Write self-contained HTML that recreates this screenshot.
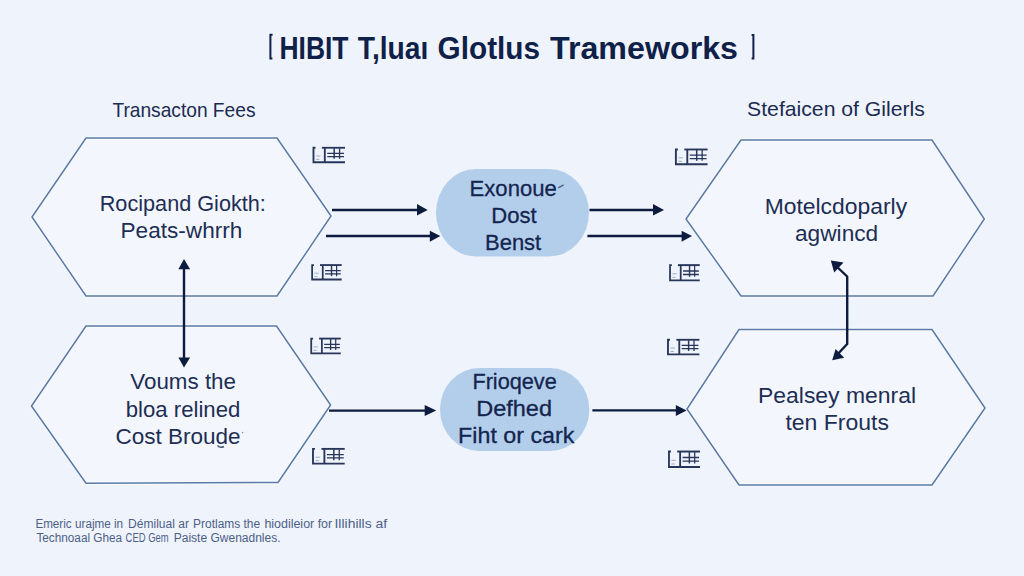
<!DOCTYPE html>
<html><head><meta charset="utf-8">
<style>
html,body{margin:0;padding:0;width:1024px;height:576px;overflow:hidden;background:#eff3fb;}
svg{display:block;font-family:"Liberation Sans",sans-serif;}
</style></head>
<body>
<svg width="1024" height="576" viewBox="0 0 1024 576">
<rect width="1024" height="576" fill="#eff3fb"/>
<path d="M272.6,34.8 H270.4 V58.6 H272.4" fill="none" stroke="#0f2149" stroke-width="2"/>
<path d="M751.6,35 H753.4 V58.6 H751.6" fill="none" stroke="#0f2149" stroke-width="2"/>
<g fill="#f3f6fc" stroke="#f7fafe" stroke-width="3.4" stroke-linejoin="round">
<polygon points="32,217 86,138 277,138 331,216 277,296 86,296"/>
<polygon points="31.5,406 86,326 276.5,326 330.6,405 278,482.5 86,483.3"/>
<polygon points="686,219 741,140 932,140 984.3,219 933,296 741,296"/>
<polygon points="687,409 739,329.5 932,329.5 985,408 932,485 739,485"/>
</g>
<g fill="none" stroke="#5b7ba6" stroke-width="1.5" stroke-linejoin="round">
<polygon points="32,217 86,138 277,138 331,216 277,296 86,296"/>
<polygon points="31.5,406 86,326 276.5,326 330.6,405 278,482.5 86,483.3"/>
<polygon points="686,219 741,140 932,140 984.3,219 933,296 741,296"/>
<polygon points="687,409 739,329.5 932,329.5 985,408 932,485 739,485"/>
</g>
<g fill="#b3ceeb">
<rect x="436" y="169" width="153" height="87.5" rx="40" ry="43.7"/>
<rect x="440" y="368" width="149.3" height="83" rx="39" ry="41.5"/>
</g>
<g fill="#0f2149" font-size="31.5" font-weight="bold">
<text x="279.50" y="58.90" textLength="69.00" lengthAdjust="spacingAndGlyphs">HIBIT</text>
<text x="357.80" y="58.90" textLength="70.50" lengthAdjust="spacingAndGlyphs">T,luaı</text>
<text x="437.60" y="58.90" textLength="102.40" lengthAdjust="spacingAndGlyphs">Glotlus</text>
<text x="550.00" y="58.90" textLength="188.00" lengthAdjust="spacingAndGlyphs">Trameworks</text>
</g>
<g fill="#1b2b52" font-size="20.3">
<text x="112.40" y="116.60" textLength="143.10" lengthAdjust="spacingAndGlyphs">Transacton Fees</text>
<text x="747.10" y="116.40" textLength="177.80" lengthAdjust="spacingAndGlyphs">Stefaicen of Gilerls</text>
</g>
<g fill="#1d2e55" font-size="22.3">
<text x="99.70" y="210.80" textLength="166.20" lengthAdjust="spacingAndGlyphs">Rocipand Giokth:</text>
<text x="120.50" y="237.90" textLength="121.90" lengthAdjust="spacingAndGlyphs">Peats-whrrh</text>
<text x="764.70" y="213.60" textLength="142.40" lengthAdjust="spacingAndGlyphs">Motelcdoparly</text>
<text x="795.00" y="240.50" textLength="83.20" lengthAdjust="spacingAndGlyphs">agwincd</text>
<text x="130.30" y="389.40" textLength="105.70" lengthAdjust="spacingAndGlyphs">Voums the</text>
<text x="125.80" y="416.50" textLength="114.50" lengthAdjust="spacingAndGlyphs">bloa relined</text>
<text x="115.40" y="443.60" textLength="125.20" lengthAdjust="spacingAndGlyphs">Cost Broude</text>
<text x="758.00" y="402.80" textLength="158.00" lengthAdjust="spacingAndGlyphs">Pealsey menral</text>
<text x="785.40" y="430.20" textLength="103.60" lengthAdjust="spacingAndGlyphs">ten Frouts</text>
</g>
<g fill="#13254f" stroke="#13254f" stroke-width="0.3" font-size="22.5">
<text x="469.60" y="195.60" textLength="87.20" lengthAdjust="spacingAndGlyphs">Exonoue</text>
<text x="491.20" y="222.70" textLength="45.40" lengthAdjust="spacingAndGlyphs">Dost</text>
<text x="485.00" y="250.10" textLength="56.20" lengthAdjust="spacingAndGlyphs">Benst</text>
<text x="472.40" y="388.60" textLength="84.40" lengthAdjust="spacingAndGlyphs">Frioqeve</text>
<text x="476.20" y="415.90" textLength="75.80" lengthAdjust="spacingAndGlyphs">Defhed</text>
<text x="458.10" y="443.00" textLength="116.30" lengthAdjust="spacingAndGlyphs">Fiht or cark</text>
</g>
<g fill="#4c5f88" font-size="12.5">
<text x="35.40" y="528.00" textLength="36.20" lengthAdjust="spacingAndGlyphs">Emeric</text>
<text x="75.00" y="528.00" textLength="48.10" lengthAdjust="spacingAndGlyphs">urajme in</text>
<text x="128.10" y="528.00" textLength="60.90" lengthAdjust="spacingAndGlyphs">Démilual ar</text>
<text x="193.10" y="528.00" textLength="67.00" lengthAdjust="spacingAndGlyphs">Protlams the</text>
<text x="264.40" y="528.00" textLength="67.80" lengthAdjust="spacingAndGlyphs">hiodileior for</text>
<text x="334.50" y="528.00" textLength="52.60" lengthAdjust="spacingAndGlyphs">Illihills af</text>
<text x="36.40" y="541.50" textLength="85.70" lengthAdjust="spacingAndGlyphs">Technoaal Ghea</text>
<text x="125.60" y="541.50" textLength="43.00" lengthAdjust="spacingAndGlyphs">CED Gem</text>
<text x="173.70" y="541.50" textLength="106.90" lengthAdjust="spacingAndGlyphs">Paiste Gwenadnles.</text>
</g>
<g stroke="#0c1b3e" stroke-width="2.4" fill="none">
<path d="M332,210 H418"/>
<path d="M326,236 H431"/>
<path d="M589.5,210 H654"/>
<path d="M587.4,236 H682"/>
<path d="M329,410.6 H426"/>
<path d="M592.4,410.4 H677"/>
<path d="M184,268 V358"/>
<path d="M834,264 L847.2,276.5 V344 L835,357" stroke-linejoin="round"/>
</g>
<g fill="#0c1b3e">
<polygon points="417,204.1 427.7,210 417,215.6"/>
<polygon points="429.8,230.8 440.3,236 429.8,241.7"/>
<polygon points="653,204 664,210 653,215.6"/>
<polygon points="681.6,230.8 692,236 681.6,241.7"/>
<polygon points="424.7,405 436.2,410.6 424.7,416.1"/>
<polygon points="675.8,405 686.6,410.4 675.8,416"/>
<polygon points="184,259 178.4,269.2 190.1,269.2"/>
<polygon points="184,367.6 178.4,357.4 190.1,357.4"/>
<polygon points="830.8,260.4 843.5,262.5 834.2,272.5"/>
<polygon points="832.2,360.3 835.6,349 844.2,357.8"/>
</g>
<path d="M558.6,187.6 L563.3,185.2" stroke="#2a3a66" stroke-width="1.3" stroke-linecap="round" opacity="0.75"/>
<circle cx="242.6" cy="432.6" r="0.8" fill="#5a6680" opacity="0.7"/>
<path d="M217.5,445.5 Q220,448.5 224,446.5" stroke="#1d2e55" stroke-width="1.4" fill="none" opacity="0.8"/>
<g transform="translate(312.5,146.8) scale(0.985,0.965)" fill="none" stroke="#28365a" stroke-width="1.9">
<path d="M3,1 H1 V16 H33"/>
<path d="M9.5,1 H33"/>
<path d="M12.5,1 V16"/>
<path d="M22,1.5 V12.5" stroke-width="1.5"/>
<path d="M27.5,1.5 V12.5" stroke-width="1.3"/>
<path d="M15,6.8 H32 M15,10.2 H32" stroke-width="1.3"/>
<path d="M3.5,9.5 H8 M3.5,13 H7" stroke-width="0.8" stroke="#8c98b0"/>
</g>
<g transform="translate(311.2,264.1) scale(0.924,0.965)" fill="none" stroke="#28365a" stroke-width="1.9">
<path d="M3,1 H1 V16 H33"/>
<path d="M9.5,1 H33"/>
<path d="M12.5,1 V16"/>
<path d="M22,1.5 V12.5" stroke-width="1.5"/>
<path d="M27.5,1.5 V12.5" stroke-width="1.3"/>
<path d="M15,6.8 H32 M15,10.2 H32" stroke-width="1.3"/>
<path d="M3.5,9.5 H8 M3.5,13 H7" stroke-width="0.8" stroke="#8c98b0"/>
</g>
<g transform="translate(310.3,337.6) scale(0.924,0.982)" fill="none" stroke="#28365a" stroke-width="1.9">
<path d="M3,1 H1 V16 H33"/>
<path d="M9.5,1 H33"/>
<path d="M12.5,1 V16"/>
<path d="M22,1.5 V12.5" stroke-width="1.5"/>
<path d="M27.5,1.5 V12.5" stroke-width="1.3"/>
<path d="M15,6.8 H32 M15,10.2 H32" stroke-width="1.3"/>
<path d="M3.5,9.5 H8 M3.5,13 H7" stroke-width="0.8" stroke="#8c98b0"/>
</g>
<g transform="translate(312.0,447.9) scale(0.991,0.982)" fill="none" stroke="#28365a" stroke-width="1.9">
<path d="M3,1 H1 V16 H33"/>
<path d="M9.5,1 H33"/>
<path d="M12.5,1 V16"/>
<path d="M22,1.5 V12.5" stroke-width="1.5"/>
<path d="M27.5,1.5 V12.5" stroke-width="1.3"/>
<path d="M15,6.8 H32 M15,10.2 H32" stroke-width="1.3"/>
<path d="M3.5,9.5 H8 M3.5,13 H7" stroke-width="0.8" stroke="#8c98b0"/>
</g>
<g transform="translate(674.9,148.5) scale(0.991,0.982)" fill="none" stroke="#28365a" stroke-width="1.9">
<path d="M3,1 H1 V16 H33"/>
<path d="M9.5,1 H33"/>
<path d="M12.5,1 V16"/>
<path d="M22,1.5 V12.5" stroke-width="1.5"/>
<path d="M27.5,1.5 V12.5" stroke-width="1.3"/>
<path d="M15,6.8 H32 M15,10.2 H32" stroke-width="1.3"/>
<path d="M3.5,9.5 H8 M3.5,13 H7" stroke-width="0.8" stroke="#8c98b0"/>
</g>
<g transform="translate(669.1,264.1) scale(0.929,1.018)" fill="none" stroke="#28365a" stroke-width="1.9">
<path d="M3,1 H1 V16 H33"/>
<path d="M9.5,1 H33"/>
<path d="M12.5,1 V16"/>
<path d="M22,1.5 V12.5" stroke-width="1.5"/>
<path d="M27.5,1.5 V12.5" stroke-width="1.3"/>
<path d="M15,6.8 H32 M15,10.2 H32" stroke-width="1.3"/>
<path d="M3.5,9.5 H8 M3.5,13 H7" stroke-width="0.8" stroke="#8c98b0"/>
</g>
<g transform="translate(667.0,338.8) scale(0.982,0.971)" fill="none" stroke="#28365a" stroke-width="1.9">
<path d="M3,1 H1 V16 H33"/>
<path d="M9.5,1 H33"/>
<path d="M12.5,1 V16"/>
<path d="M22,1.5 V12.5" stroke-width="1.5"/>
<path d="M27.5,1.5 V12.5" stroke-width="1.3"/>
<path d="M15,6.8 H32 M15,10.2 H32" stroke-width="1.3"/>
<path d="M3.5,9.5 H8 M3.5,13 H7" stroke-width="0.8" stroke="#8c98b0"/>
</g>
<g transform="translate(668.0,450.5) scale(0.971,1.035)" fill="none" stroke="#28365a" stroke-width="1.9">
<path d="M3,1 H1 V16 H33"/>
<path d="M9.5,1 H33"/>
<path d="M12.5,1 V16"/>
<path d="M22,1.5 V12.5" stroke-width="1.5"/>
<path d="M27.5,1.5 V12.5" stroke-width="1.3"/>
<path d="M15,6.8 H32 M15,10.2 H32" stroke-width="1.3"/>
<path d="M3.5,9.5 H8 M3.5,13 H7" stroke-width="0.8" stroke="#8c98b0"/>
</g>
</svg>
</body></html>
